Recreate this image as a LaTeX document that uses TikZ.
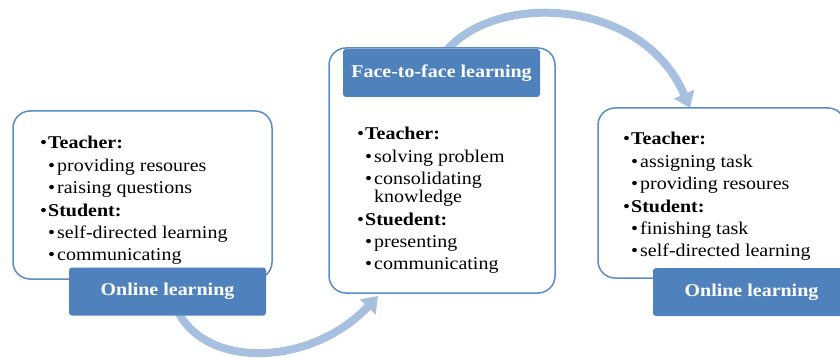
\documentclass[tikz,border=0pt]{standalone}
\usepackage{fontspec}
\setmainfont{Liberation Serif}[FakeStretch=1.11]
\usetikzlibrary{arrows.meta}
\definecolor{acc}{HTML}{4F81BD}
\definecolor{bord}{HTML}{5A8CC8}
\definecolor{arr}{HTML}{A8C0DF}
\newcommand{\bi}[1]{\hbox{\makebox[8pt][l]{•}\textbf{#1}}}
\newcommand{\bii}[1]{\hbox{\hspace*{8pt}\makebox[9pt][l]{•}#1}}
\begin{document}
\begin{tikzpicture}[x=1pt,y=-1pt,
  panel/.style={draw=bord,line width=1.5pt,fill=white,rounded corners=17pt,inner sep=0},
  label/.style={fill=acc,rounded corners=3pt,inner sep=0,minimum width=197pt,minimum height=48pt,
    text=white,font=\fontsize{18}{22}\selectfont\bfseries},
  content/.style={anchor=base west,inner sep=0,font=\fontsize{18}{22.4}\selectfont},
  flow/.style={arr,line width=8pt,-{Triangle[width=21pt,length=15pt]}}]
\useasboundingbox (0,0) rectangle (840,358);
\clip (0,0) rectangle (840,358);
\coordinate (a1s) at (175,305);
\coordinate (a1e) at (378,296);
\coordinate (a2s) at (440,60);
\coordinate (a2e) at (690,108);
\draw[flow] (a1s) .. controls (200,370) and (310,368) .. (a1e);
\draw[flow] (a2s) .. controls (480,-8) and (640,-8) .. (a2e);
% panels
\node[panel,minimum width=259pt,minimum height=168pt] (p1) at (142.5,195) {};
\node[panel,minimum width=226pt,minimum height=245pt] (p2) at (442,170.5) {};
\node[panel,minimum width=247pt,minimum height=170pt] (p3) at (721.5,193) {};
% labels
\node[label] (l1) at (167.5,291.5) {Online learning};
\node[label] (l2) at (441.5,73) {Face-to-face learning};
\node[label] (l3) at (751.5,292) {Online learning};
% contents
\node[content] (c1) at (40,149) {\vtop{\baselineskip=22.4pt
  \bi{Teacher:}\bii{providing resoures}\bii{raising questions}
  \bi{Student:}\bii{self-directed learning}\bii{communicating}}};
\node[content] (c2) at (357,140) {\vtop{\baselineskip=22.4pt
  \bi{Teacher:}\bii{solving problem}\bii{consolidating}\vskip-4.4pt
  \hbox{\hspace*{17pt}knowledge}
  \bi{Stuedent:}\bii{presenting}\bii{communicating}}};
\node[content] (c3) at (623,145) {\vtop{\baselineskip=22.4pt
  \bi{Teacher:}\bii{assigning task}\bii{providing resoures}
  \bi{Student:}\bii{finishing task}\bii{self-directed learning}}};
\end{tikzpicture}
\end{document}
